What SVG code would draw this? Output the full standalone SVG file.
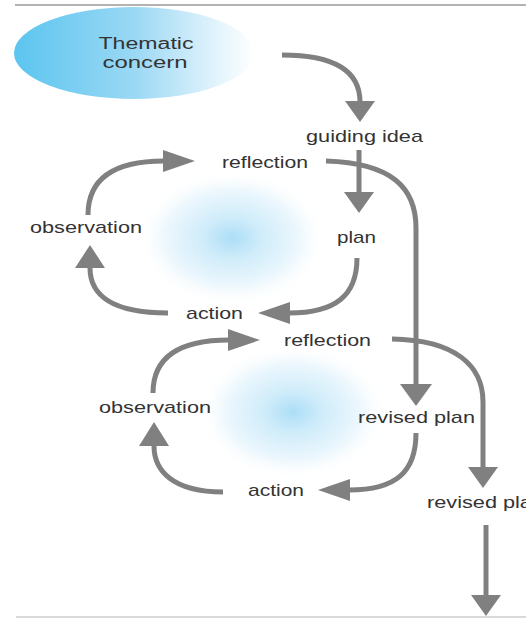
<svg xmlns="http://www.w3.org/2000/svg" width="526" height="618" viewBox="0 0 526 618">
<style>
.lbl{font-family:"Liberation Sans",Arial,sans-serif;font-size:17px;fill:#333}
.tc{font-size:16px}
.c{fill:none;stroke:#808080;stroke-width:5}
.h{fill:#808080}
.rule{stroke-width:1.5}
</style>
<defs>
<linearGradient id="tg" x1="0" y1="0" x2="1" y2="0">
<stop offset="0" stop-color="#5cc5ef"/>
<stop offset="0.5" stop-color="#9ad8f4"/>
<stop offset="0.85" stop-color="#e3f4fc"/>
<stop offset="1" stop-color="#ffffff"/>
</linearGradient>
<radialGradient id="bg" cx="0.5" cy="0.5" r="0.5">
<stop offset="0" stop-color="#acdef6"/>
<stop offset="0.3" stop-color="#cfecfa"/>
<stop offset="0.7" stop-color="#ecf7fd"/>
<stop offset="1" stop-color="#ffffff" stop-opacity="0"/>
</radialGradient>
</defs>
<rect width="526" height="618" fill="#ffffff"/>
<line class="rule" x1="15" y1="5" x2="526" y2="5" stroke="#9a9a9a"/>
<line class="rule" x1="16" y1="617" x2="526" y2="617" stroke="#cccccc"/>
<ellipse id="blob1" cx="232" cy="238" rx="95" ry="68" fill="url(#bg)"/>
<ellipse id="blob2" cx="293" cy="412" rx="95" ry="68" fill="url(#bg)"/>
<g id="thematic-concern">
<ellipse cx="134" cy="53" rx="120" ry="46" fill="url(#tg)"/>
<text class="lbl tc" x="146" y="49" text-anchor="middle" textLength="95" lengthAdjust="spacingAndGlyphs">Thematic</text>
<text class="lbl tc" x="145" y="68" text-anchor="middle" textLength="85" lengthAdjust="spacingAndGlyphs">concern</text>
</g>
<g id="guiding-idea"><text class="lbl" x="306" y="142" textLength="117" lengthAdjust="spacingAndGlyphs">guiding idea</text></g>
<g id="reflection-1"><text class="lbl" x="222" y="168" textLength="86" lengthAdjust="spacingAndGlyphs">reflection</text></g>
<g id="observation-1"><text class="lbl" x="30" y="233" textLength="112" lengthAdjust="spacingAndGlyphs">observation</text></g>
<g id="plan"><text class="lbl" x="337" y="243" textLength="39" lengthAdjust="spacingAndGlyphs">plan</text></g>
<g id="action-1"><text class="lbl" x="186" y="319" textLength="57" lengthAdjust="spacingAndGlyphs">action</text></g>
<g id="reflection-2"><text class="lbl" x="284" y="346" textLength="87" lengthAdjust="spacingAndGlyphs">reflection</text></g>
<g id="observation-2"><text class="lbl" x="99" y="413" textLength="112" lengthAdjust="spacingAndGlyphs">observation</text></g>
<g id="revised-plan-1"><text class="lbl" x="358" y="423" textLength="117" lengthAdjust="spacingAndGlyphs">revised plan</text></g>
<g id="action-2"><text class="lbl" x="248" y="496" textLength="56" lengthAdjust="spacingAndGlyphs">action</text></g>
<g id="revised-plan-2"><text class="lbl" x="427" y="508" textLength="117" lengthAdjust="spacingAndGlyphs">revised plan</text></g>
<g id="connectors">
<path class="c" d="M282,55 C330,55 360,68 360,102"/>
<polygon class="h" points="345,101 375,101 360,122"/>
<path class="c" d="M359,150 L359,193"/>
<polygon class="h" points="344,192 374,192 359,213"/>
<path class="c" d="M326,161 C392,163 416,188 416,228 L416,385"/>
<polygon class="h" points="400,384 432,384 416,406"/>
<path class="c" d="M88,215 C88,180 112,161 164,161"/>
<polygon class="h" points="163,150 163,172 195,161"/>
<path class="c" d="M168,313 C112,313 90,295 90,268"/>
<polygon class="h" points="75,268 105,268 90,245"/>
<path class="c" d="M357,258 C357,296 335,313 289,313"/>
<polygon class="h" points="290,302 290,324 258,313"/>
<path class="c" d="M153,393 C153,358 178,340 229,340"/>
<polygon class="h" points="228,329 228,351 260,340"/>
<path class="c" d="M223,492 C172,492 154,470 154,446"/>
<polygon class="h" points="139,446 169,446 154,422"/>
<path class="c" d="M416,433 C416,472 396,490 349,490"/>
<polygon class="h" points="350,479 350,501 318,490"/>
<path class="c" d="M392,339 C456,340 483,366 483,402 L483,468"/>
<polygon class="h" points="468,467 498,467 483,488"/>
<path class="c" d="M486,525 L486,596"/>
<polygon class="h" points="471,595 501,595 486,616"/>
</g>
</svg>
